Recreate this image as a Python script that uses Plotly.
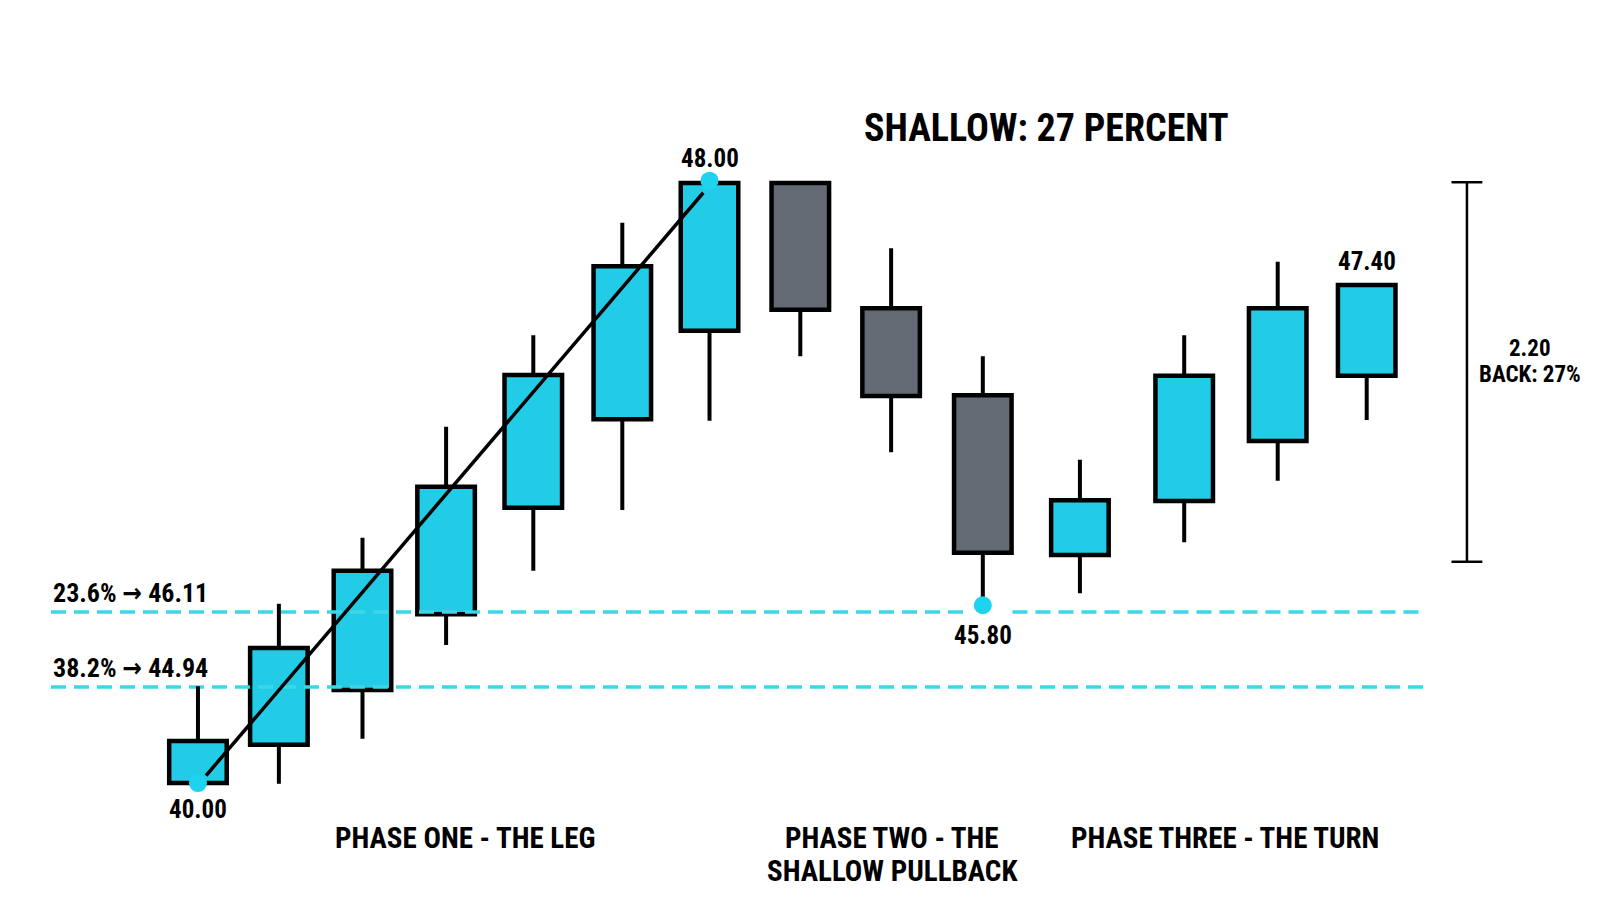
import plotly.graph_objects as go

# ---- chart data ----
bar_pos = [0, 0.90, 1.83, 2.76, 3.73, 4.72, 5.69, 6.70, 7.71, 8.73, 9.81, 10.97, 12.01, 13.00]
opens = [40.00, 40.51, 41.24, 42.25, 43.67, 44.85, 46.03, 48.00, 46.33, 45.17, 43.04, 43.76, 44.56, 45.43]
closes = [40.56, 41.80, 42.83, 43.95, 45.44, 46.89, 48.00, 46.31, 45.16, 43.07, 43.77, 45.43, 46.33, 46.64]
highs = [41.29, 42.39, 43.27, 44.75, 45.97, 47.47, 48.00, 48.00, 47.13, 45.69, 44.31, 45.97, 46.95, 46.64]
lows = [40.00, 39.99, 40.59, 41.84, 42.83, 43.64, 44.83, 45.69, 44.41, 42.40, 42.53, 43.21, 44.03, 44.84]

fib_names = ["23.6% \u2192 46.11", "38.2% \u2192 44.94"]
fib_levels = [42.28, 41.28]

leg_start = [0, 40.00]      # bar index, level
leg_end = [5.69, 48.00]
pivot_x = [0, 5.69, 8.73]
pivot_y = [40.00, 48.03, 42.37]
pivot_text = ["40.00", "48.00", "45.80"]

last_label = "47.40"
range_top, range_bottom = 48.01, 42.95
range_lines = ["2.20", "BACK: 27%"]

title_text = "SHALLOW: 27 PERCENT"
phase_lines = [
    ("PHASE ONE - THE LEG", 2.97, 0),
    ("PHASE TWO - THE", 7.72, 0),
    ("SHALLOW PULLBACK", 7.72, 1),
    ("PHASE THREE - THE TURN", 11.42, 0),
]

CYAN = "#22CCE6"
GREY = "#646A74"
DOT = "#1DD3EE"
FONT = "Roboto Condensed, Liberation Sans Narrow, DejaVu Sans Condensed, Roboto, sans-serif"
PX = 75.0   # pixels per price unit, used only for text offsets

fig = go.Figure()

# fib retracement lines (broken around the 45.80 label on the upper one)
x_left, x_right = -1.635, 13.64
gap = (8.53, 9.06)
fig.add_trace(go.Scatter(
    x=[x_left, gap[0], None, gap[1], x_right],
    y=[fib_levels[0], fib_levels[0], None, fib_levels[0], fib_levels[0]],
    mode="lines", line=dict(color="#3DD6E6", width=3.5, dash="15px,8px"),
    hoverinfo="skip", showlegend=False))
fig.add_trace(go.Scatter(
    x=[x_left, x_right], y=[fib_levels[1], fib_levels[1]],
    mode="lines", line=dict(color="#3DD6E6", width=3.5, dash="15px,8px"),
    hoverinfo="skip", showlegend=False))

# wicks drawn as two pieces so they never cross a body
wx, wy = [], []
for x, o, h, l, c in zip(bar_pos, opens, highs, lows, closes):
    top, bot = max(o, c), min(o, c)
    if h > top:
        wx += [x, x, None]
        wy += [top, h, None]
    if l < bot:
        wx += [x, x, None]
        wy += [l, bot, None]
fig.add_trace(go.Scatter(x=wx, y=wy, mode="lines", line=dict(color="black", width=4),
                         hoverinfo="skip", showlegend=False))

# candle bodies
fig.add_trace(go.Bar(
    x=bar_pos,
    y=[c - o for o, c in zip(opens, closes)],
    base=opens,
    width=0.64,
    marker=dict(color=[CYAN if c >= o else GREY for o, c in zip(opens, closes)],
                line=dict(color="black", width=4.5)),
    hoverinfo="skip", showlegend=False))

# the leg
fig.add_trace(go.Scatter(x=[leg_start[0] + 0.09, leg_end[0] - 0.07],
                         y=[leg_start[1] + 0.1, leg_end[1] - 0.13],
                         mode="lines", line=dict(color="black", width=3.5),
                         hoverinfo="skip", showlegend=False))

# pivot dots
fig.add_trace(go.Scatter(x=pivot_x, y=pivot_y, mode="markers",
                         marker=dict(color=DOT, size=18, line=dict(width=0)),
                         hoverinfo="skip", showlegend=False))

# range bracket on the right
bx, cap = 14.115, 0.172
fig.add_trace(go.Scatter(
    x=[bx, bx, None, bx - cap, bx + cap, None, bx - cap, bx + cap],
    y=[range_top, range_bottom, None, range_top, range_top, None, range_bottom, range_bottom],
    mode="lines", line=dict(color="black", width=2.5),
    hoverinfo="skip", showlegend=False))

ann = []
# fib labels
for name, lvl in zip(fib_names, fib_levels):
    ann.append(dict(x=x_left - 0.005, y=lvl, text=name, xanchor="left", yanchor="middle",
                    yshift=19, font=dict(size=26)))
# pivot labels
ann.append(dict(x=pivot_x[0], y=pivot_y[0], text=pivot_text[0], yanchor="middle", yshift=-26,
                font=dict(size=25)))
ann.append(dict(x=pivot_x[1], y=pivot_y[1], text=pivot_text[1], yanchor="middle", yshift=22,
                font=dict(size=25)))
ann.append(dict(x=pivot_x[2], y=pivot_y[2], text=pivot_text[2], yanchor="middle", yshift=-30,
                font=dict(size=25)))
ann.append(dict(x=bar_pos[-1], y=max(opens[-1], closes[-1]), text=last_label, yanchor="middle",
                yshift=23, font=dict(size=25)))
mid = (range_top + range_bottom) / 2
for i, t in enumerate(range_lines):
    ann.append(dict(x=bx + 0.7, y=mid, text=t, yanchor="middle", yshift=23 - 26 * i,
                    font=dict(size=23)))
# title and phase labels
ann.append(dict(x=9.44, y=48.73, text=title_text, font=dict(size=38)))
for t, x, row in phase_lines:
    ann.append(dict(x=x, y=40.0 - (55 + 33 * row) / PX, text=t, yanchor="middle",
                    font=dict(size=29)))

for a in ann:
    a.update(showarrow=False, xref="x", yref="y")
    a["font"].update(color="black", family=FONT, weight="bold")

fig.update_layout(
    width=1600, height=914,
    margin=dict(l=0, r=0, t=0, b=0),
    paper_bgcolor="white", plot_bgcolor="white",
    annotations=ann,
    xaxis=dict(range=[-2.113, 15.684], visible=False, fixedrange=True),
    yaxis=dict(range=[38.147, 50.333], visible=False, fixedrange=True),
    font=dict(family=FONT, color="black"),
)

fig.write_html("out.html")
